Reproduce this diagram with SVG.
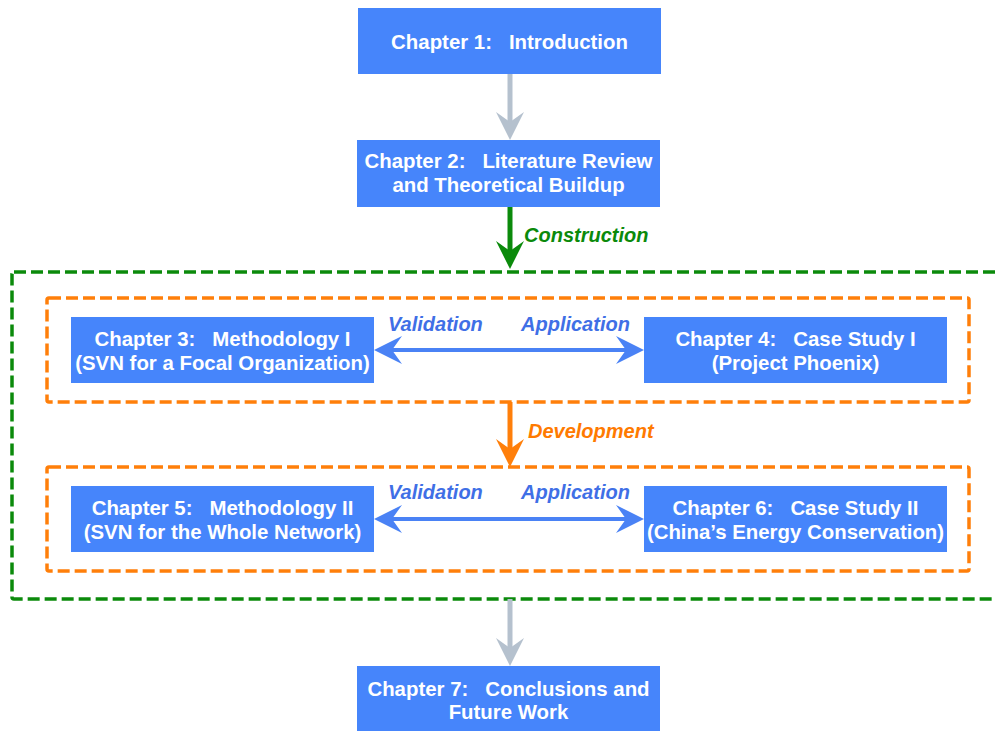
<svg xmlns="http://www.w3.org/2000/svg" width="995" height="731" viewBox="0 0 995 731">
  <style>
    .box { fill: #4685fb; }
    .boxtxt { fill: #ffffff; font-family: "Liberation Sans", Arial, sans-serif; font-weight: bold; font-size: 20.4px; text-anchor: middle; white-space: pre; }
    .lbl { font-family: "Liberation Sans", Arial, sans-serif; font-weight: bold; font-style: italic; font-size: 20px; }
    .grp-green { fill: none; stroke: #0b8a0b; stroke-width: 3.5; stroke-dasharray: 12 5; }
    .grp-orange { fill: none; stroke: #ff7f0a; stroke-width: 3.5; stroke-dasharray: 12 5; }
    .gray { stroke: #b5c1ce; stroke-width: 5; fill: none; }
    .green { stroke: #0b8a0b; stroke-width: 5; fill: none; }
    .orange { stroke: #ff7f0a; stroke-width: 5; fill: none; }
    .blue { stroke: #4a82f5; stroke-width: 4; fill: none; }
  </style>
  <defs>
    <marker id="head-gray" viewBox="0 -14 28 28" refX="10" refY="0" markerWidth="28" markerHeight="28" markerUnits="userSpaceOnUse" orient="auto">
      <path d="M28,0 L0,-14 L10,0 L0,14 Z" fill="#b5c1ce"/>
    </marker>
    <marker id="head-green" viewBox="0 -14 28 28" refX="10" refY="0" markerWidth="28" markerHeight="28" markerUnits="userSpaceOnUse" orient="auto">
      <path d="M28,0 L0,-14 L10,0 L0,14 Z" fill="#0b8a0b"/>
    </marker>
    <marker id="head-orange" viewBox="0 -14 28 28" refX="10" refY="0" markerWidth="28" markerHeight="28" markerUnits="userSpaceOnUse" orient="auto">
      <path d="M28,0 L0,-14 L10,0 L0,14 Z" fill="#ff7f0a"/>
    </marker>
    <marker id="head-blue" viewBox="0 -14 28 28" refX="10" refY="0" markerWidth="28" markerHeight="28" markerUnits="userSpaceOnUse" orient="auto-start-reverse">
      <path d="M28,0 L0,-14 L10,0 L0,14 Z" fill="#4a82f5"/>
    </marker>
  </defs>

  <!-- grouping frames -->
  <g id="frames">
    <rect class="grp-green" x="12" y="272" width="1000" height="327" rx="2"/>
    <rect class="grp-orange" x="47" y="298" width="922" height="104" rx="2"/>
    <rect class="grp-orange" x="47" y="467" width="922" height="104" rx="2"/>
  </g>

  <!-- connectors -->
  <g id="connectors">
    <line class="gray" x1="510" y1="74" x2="510" y2="122" marker-end="url(#head-gray)"/>
    <line class="green" x1="510" y1="207" x2="510" y2="251" marker-end="url(#head-green)"/>
    <text class="lbl" x="524" y="242" fill="#0b8a0b">Construction</text>
    <line class="orange" x1="510" y1="402" x2="510" y2="449" marker-end="url(#head-orange)"/>
    <text class="lbl" x="528" y="438" fill="#ff7a00">Development</text>
    <line class="gray" x1="510" y1="599" x2="510" y2="648" marker-end="url(#head-gray)"/>

    <line class="blue" x1="392" y1="350" x2="626" y2="350" marker-start="url(#head-blue)" marker-end="url(#head-blue)"/>
    <text class="lbl" x="388" y="331" fill="#3f6fe6">Validation</text>
    <text class="lbl" x="521" y="331" fill="#3f6fe6">Application</text>

    <line class="blue" x1="392" y1="519" x2="626" y2="519" marker-start="url(#head-blue)" marker-end="url(#head-blue)"/>
    <text class="lbl" x="388" y="499" fill="#3f6fe6">Validation</text>
    <text class="lbl" x="521" y="499" fill="#3f6fe6">Application</text>
  </g>

  <!-- chapter nodes -->
  <g id="ch1">
    <rect class="box" x="358" y="8" width="303" height="66"/>
    <text class="boxtxt" x="509.5" y="49">Chapter 1:   Introduction</text>
  </g>
  <g id="ch2">
    <rect class="box" x="357" y="140" width="303" height="67"/>
    <text class="boxtxt" x="508.5" y="168">Chapter 2:   Literature Review</text>
    <text class="boxtxt" x="508.5" y="192">and Theoretical Buildup</text>
  </g>
  <g id="ch3">
    <rect class="box" x="71" y="317" width="303" height="66"/>
    <text class="boxtxt" x="222.5" y="346">Chapter 3:   Methodology I</text>
    <text class="boxtxt" x="222.5" y="370">(SVN for a Focal Organization)</text>
  </g>
  <g id="ch4">
    <rect class="box" x="644" y="317" width="303" height="66"/>
    <text class="boxtxt" x="795.5" y="346">Chapter 4:   Case Study I</text>
    <text class="boxtxt" x="795.5" y="370">(Project Phoenix)</text>
  </g>
  <g id="ch5">
    <rect class="box" x="71" y="486" width="303" height="66"/>
    <text class="boxtxt" x="222.5" y="515">Chapter 5:   Methodology II</text>
    <text class="boxtxt" x="222.5" y="539">(SVN for the Whole Network)</text>
  </g>
  <g id="ch6">
    <rect class="box" x="644" y="486" width="303" height="66"/>
    <text class="boxtxt" x="795.5" y="515">Chapter 6:   Case Study II</text>
    <text class="boxtxt" x="795.5" y="539">(China’s Energy Conservation)</text>
  </g>
  <g id="ch7">
    <rect class="box" x="357" y="666" width="303" height="67"/>
    <text class="boxtxt" x="508.5" y="696">Chapter 7:   Conclusions and</text>
    <text class="boxtxt" x="508.5" y="719">Future Work</text>
  </g>
</svg>
